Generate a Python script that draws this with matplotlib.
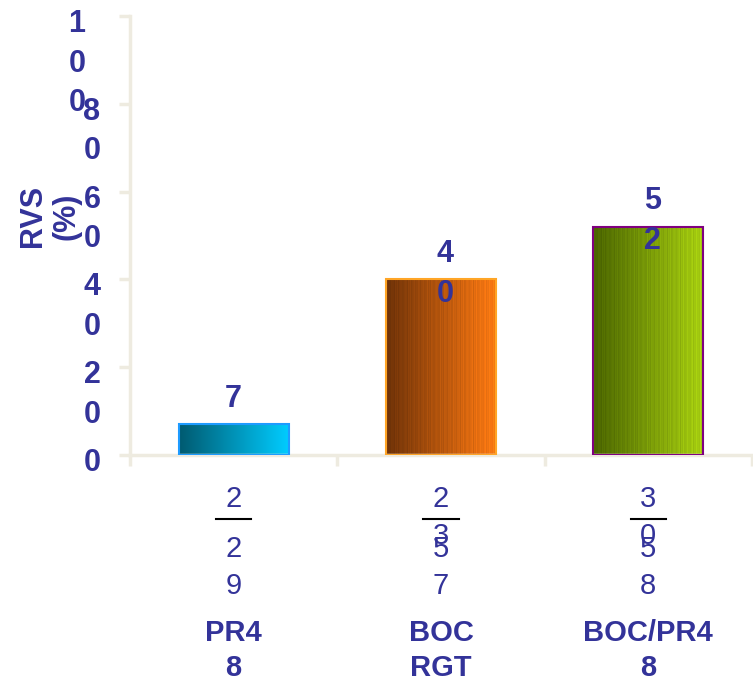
import numpy as np
import matplotlib
matplotlib.use('Agg')
import matplotlib.pyplot as plt
from matplotlib.colors import to_rgb

plt.rcParams['font.family'] = ['Liberation Sans', 'DejaVu Sans']

# Data
groups = ['PR4\n8', 'BOC\nRGT', 'BOC/PR4\n8']
numerators = ['2', '23', '30']
denominators = ['29', '57', '58']
rvs = [7, 40, 52]
yticks = [0, 20, 40, 60, 80, 100]

# Styles
txt_col = '#333399'
axis_col = '#EEEBE0'
grad_left = ['#005A70', '#6E3208', '#4A6400']
grad_right = ['#00CCFF', '#FF7A12', '#A8D010']
edge_cols = ['#1E9BFF', '#FFA526', '#800080']

fig = plt.figure(figsize=(7.53, 6.85), dpi=100)
ax = fig.add_axes([130 / 753, 1 - 455 / 685, 622 / 753, 439 / 685])

x = np.arange(len(groups))
width = 0.53
bars = ax.bar(x, rvs, width=width, facecolor='none', edgecolor=edge_cols, linewidth=1.5, zorder=3)

# gradient fill with fine vertical stripes
n = 120
stripes = 0.07 * np.sin(np.arange(n) * 2.7) + 0.04 * np.sin(np.arange(n) * 1.3)
for i, b in enumerate(bars):
    c0 = np.array(to_rgb(grad_left[i]))
    c1 = np.array(to_rgb(grad_right[i]))
    t = np.linspace(0, 1, n)[:, None]
    img = c0 + (c1 - c0) * t
    if i > 0:
        img = np.clip(img * (1 + stripes[:, None]), 0, 1)
    img = img[None, :, :]
    im = ax.imshow(img, extent=[b.get_x(), b.get_x() + b.get_width(), 0, b.get_height()],
                   aspect='auto', zorder=2, interpolation='bilinear')
    im.set_clip_path(b)

ax.set_xlim(-0.5, 2.5)
ax.set_ylim(0, 100)

for s in ['top', 'right']:
    ax.spines[s].set_visible(False)
for s in ['left', 'bottom']:
    ax.spines[s].set_color(axis_col)
    ax.spines[s].set_linewidth(2.5)

ax.set_yticks(yticks)
ax.set_xticks([-0.5, 0.5, 1.5, 2.5])
ax.tick_params(axis='both', color=axis_col, width=2.5, length=8, labelleft=False, labelbottom=False)

# y tick labels, wrapped digit by digit
ytr = ax.get_yaxis_transform()
for v in yticks:
    xp = 77 if v == 100 else 92
    ax.text((xp - 130) / 622, v + 1.6, '\n'.join(str(v)), transform=ytr, ha='center', va='top',
            fontsize=22, fontweight='bold', color=txt_col, linespacing=1.42, clip_on=False)

fig.text(50 / 753, 1 - 216 / 685, 'RVS\n(%)', rotation=90, ha='center', va='center',
         fontsize=22, fontweight='bold', color=txt_col, linespacing=1.15)

# value labels
for i, v in enumerate(rvs):
    ax.annotate('\n'.join(str(v)), (x[i], v), xytext=(3 if i else 0, 29), textcoords='offset points',
                ha='center', va='top', fontsize=22, fontweight='bold', color=txt_col,
                linespacing=1.42)

# x labels: fraction then group name
xtr = ax.get_xaxis_transform()
def ay(py):
    return (455 - py) / 439

for i in range(len(groups)):
    ax.text(x[i], ay(485), '\n'.join(numerators[i]), transform=xtr, ha='center', va='top',
            fontsize=21, color=txt_col, linespacing=1.42, clip_on=False)
    ax.plot([x[i] - 0.085, x[i] + 0.085], [ay(519), ay(519)], transform=xtr, color='black',
            lw=1.5, clip_on=False)
    ax.text(x[i], ay(535), '\n'.join(denominators[i]), transform=xtr, ha='center', va='top',
            fontsize=21, color=txt_col, linespacing=1.42, clip_on=False)
    ax.text(x[i], ay(619), groups[i], transform=xtr, ha='center', va='top',
            fontsize=21, fontweight='bold', color=txt_col, linespacing=1.3, clip_on=False)

fig.savefig('out.png', dpi=100)
